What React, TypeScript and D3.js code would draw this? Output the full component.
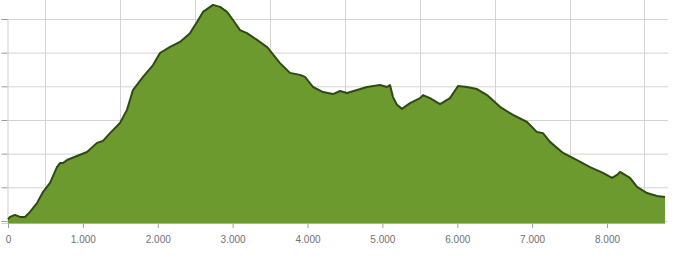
import { useEffect, useRef } from "react";
import * as d3 from "d3";

// distance along the route (m)
const distances = [
  0, 27, 93, 160, 227, 294, 387, 467, 561, 654, 694, 734, 788, 921, 1055, 1189, 1269, 1362, 1496, 1589,
  1669, 1803, 1937, 2030, 2164, 2297, 2431, 2524, 2604, 2738, 2832, 2925, 3005, 3099, 3192, 3326, 3459,
  3633, 3766, 3900, 3967, 4074, 4207, 4341, 4434, 4528, 4661, 4795, 4968, 5062, 5102, 5142, 5196, 5262,
  5369, 5503, 5543, 5636, 5770, 5903, 6010, 6130, 6264, 6398, 6571, 6745, 6932, 7065, 7145, 7239, 7413,
  7600, 7773, 7947, 8067, 8134, 8174, 8241, 8307, 8401, 8535, 8668, 8775,
];

// elevation above the lowest gridline (m)
const elevations = [
  5, 12, 18, 12, 12, 27, 53, 86, 113, 160, 172, 172, 181, 193, 205, 232, 238, 261, 291, 330,
  389, 428, 463, 499, 517, 532, 558, 591, 621, 642, 636, 621, 597, 567, 558, 538, 517,
  469, 440, 434, 428, 398, 383, 377, 386, 380, 389, 398, 404, 398, 404, 368, 345, 333,
  350, 365, 374, 365, 347, 365, 401, 398, 392, 374, 339, 315, 294, 264, 261, 235, 202,
  181, 160, 143, 128, 137, 146, 137, 128, 101, 83, 74, 71,
];

const xTicks = [0, 1000, 2000, 3000, 4000, 5000, 6000, 7000, 8000];
const xGrid = [500, 1500, 2500, 3500, 4500, 5500, 6500, 7500, 8500];
const yTicks = [0, 100, 200, 300, 400, 500, 600];

export default function App() {
  const svgRef = useRef<SVGSVGElement>(null);

  useEffect(() => {
    if (!svgRef.current) return;
    document.body.style.margin = "0";

    const width = 676;
    const height = 261;
    const left = 8;
    const right = 668;

    const svg = d3.select(svgRef.current);
    svg.selectAll("*").remove();

    const x = d3.scaleLinear().domain([0, 8000]).range([left, 607]);
    const y = d3.scaleLinear().domain([-6, 600]).range([223, 19]);

    const data = distances.map((d, i) => ({ d, e: elevations[i] }));

    // grid
    svg.append("g")
      .selectAll("line")
      .data(yTicks)
      .enter()
      .append("line")
      .attr("x1", left)
      .attr("x2", right)
      .attr("y1", (d) => y(d) + 0.5)
      .attr("y2", (d) => y(d) + 0.5)
      .attr("stroke", "#d3d3d3")
      .attr("stroke-width", 1);

    svg.append("g")
      .selectAll("line")
      .data(xGrid)
      .enter()
      .append("line")
      .attr("x1", (d) => Math.round(x(d)) + 0.5)
      .attr("x2", (d) => Math.round(x(d)) + 0.5)
      .attr("y1", 0)
      .attr("y2", y(-6))
      .attr("stroke", "#d3d3d3")
      .attr("stroke-width", 1);

    // left axis
    svg.append("g")
      .attr("transform", `translate(${left - 0.5},0)`)
      .call(d3.axisLeft(y).tickValues(yTicks).tickSize(6).tickFormat(() => ""))
      .call((g) => g.select(".domain").attr("stroke", "#cfcfcf"))
      .call((g) => g.selectAll(".tick line").attr("stroke", "#9a9a9a"));

    // area
    const area = d3.area<{ d: number; e: number }>()
      .x((p) => x(p.d))
      .y0(y(-6))
      .y1((p) => y(p.e));

    const line = d3.line<{ d: number; e: number }>()
      .x((p) => x(p.d))
      .y((p) => y(p.e));

    svg.append("path")
      .datum(data)
      .attr("fill", "#6c9a2f")
      .attr("d", area);

    svg.append("path")
      .datum(data)
      .attr("fill", "none")
      .attr("stroke", "#2f4a16")
      .attr("stroke-width", 2)
      .attr("stroke-linejoin", "round")
      .attr("d", line);

    // bottom axis
    svg.append("g")
      .attr("transform", `translate(0,${y(-6) + 1})`)
      .call(
        d3.axisBottom(x)
          .tickValues(xTicks)
          .tickSize(4)
          .tickPadding(8)
          .tickFormat((d) => d3.format(",")(Number(d)).replace(/,/g, "."))
      )
      .call((g) => g.select(".domain").remove())
      .call((g) => g.selectAll(".tick line").attr("stroke", "#a0a0a0"))
      .call((g) =>
        g.selectAll(".tick text")
          .attr("fill", "#707070")
          .attr("font-size", "10px")
          .attr("font-family", "Liberation Sans, Arial, sans-serif")
      );

    svg.append("line")
      .attr("x1", left)
      .attr("x2", x(distances[distances.length - 1]))
      .attr("y1", y(-6) + 0.5)
      .attr("y2", y(-6) + 0.5)
      .attr("stroke", "#9fc26a")
      .attr("stroke-width", 1);

    svg.attr("width", width).attr("height", height);
  }, []);

  return (
    <svg
      ref={svgRef}
      width={676}
      height={261}
      style={{ display: "block", background: "#ffffff" }}
    />
  );
}
